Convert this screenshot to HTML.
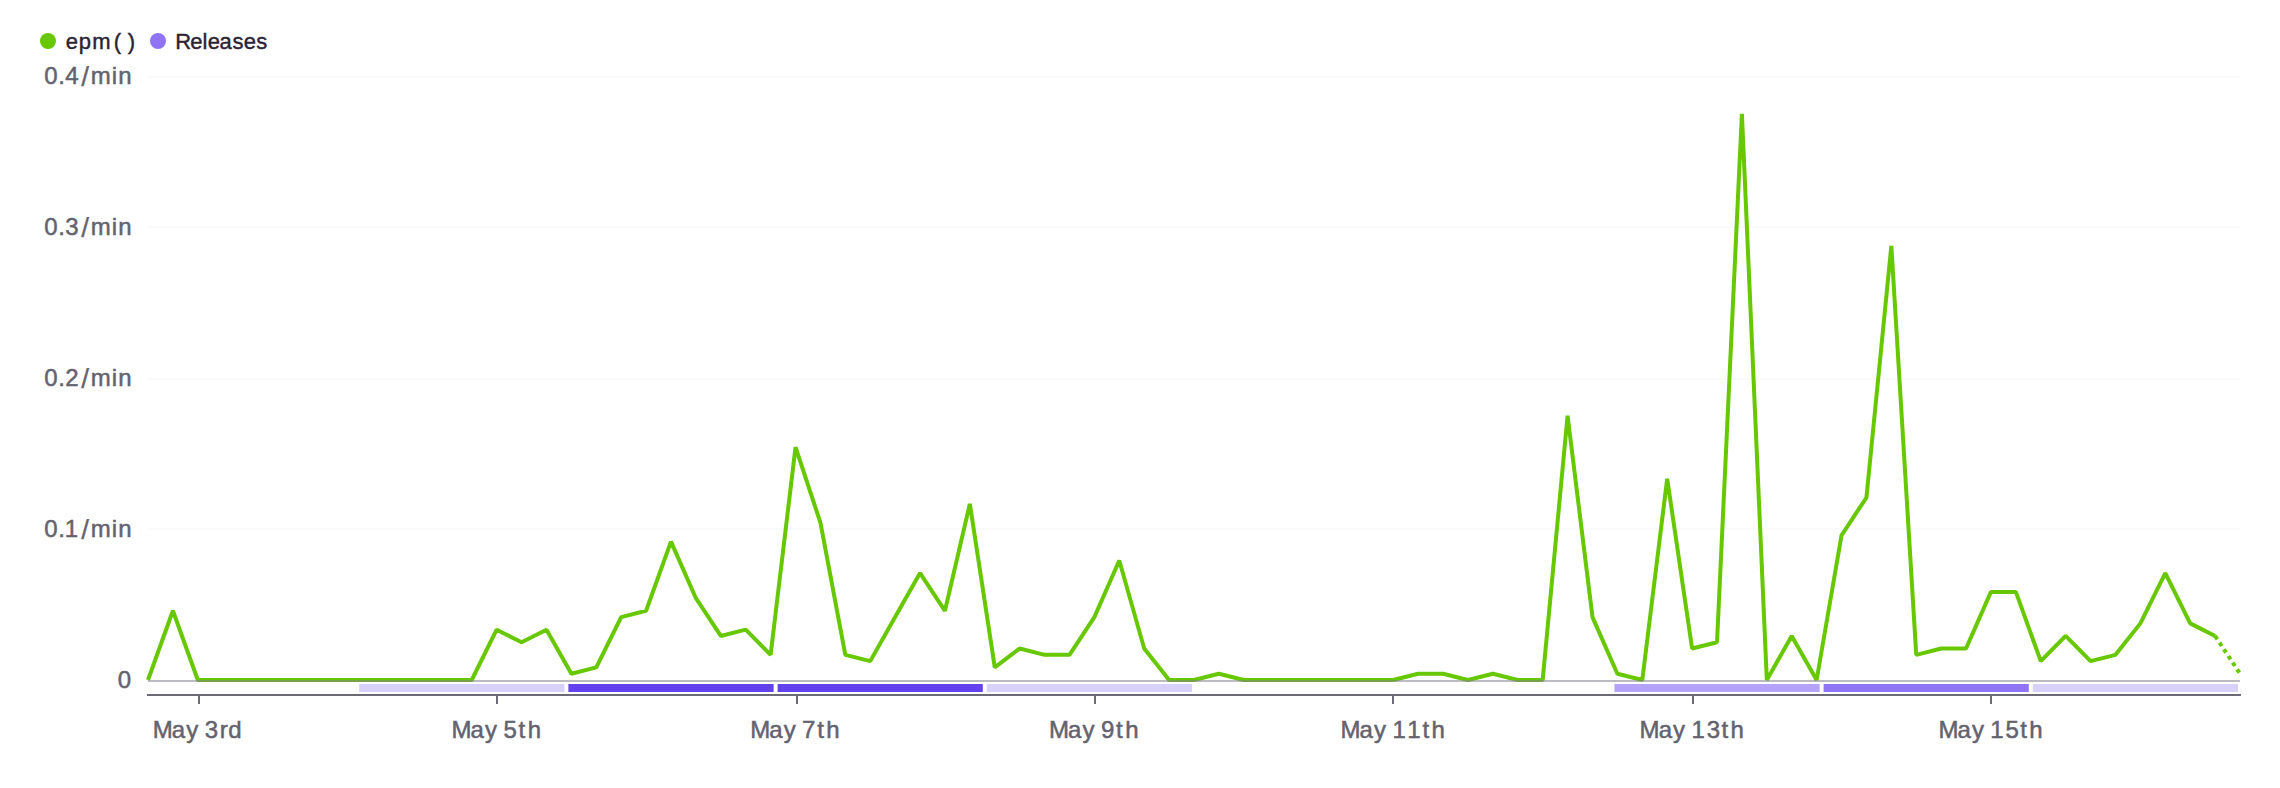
<!DOCTYPE html>
<html><head><meta charset="utf-8"><title>chart</title>
<style>
html,body{margin:0;padding:0;background:#fff;}
body{width:2280px;height:788px;overflow:hidden;}
svg{display:block;}
text{font-family:"Liberation Sans",sans-serif;}
.ax{font-size:24px;fill:#64626e;stroke:#64626e;stroke-width:0.5px;}
.lg{font-size:22px;fill:#2b2233;stroke:#2b2233;stroke-width:0.4px;}
</style></head><body>
<svg width="2280" height="788" viewBox="0 0 2280 788">
<rect width="2280" height="788" fill="#fff"/>
<!-- legend -->
<circle cx="48" cy="41" r="8" fill="#67c800"/>
<text x="65.80 78.74 92.23 113.72 127.85" y="49" class="lg">epm()</text>
<circle cx="158" cy="41" r="8" fill="#8f75f5"/>
<text x="175.26 190.20 202.50 207.80 219.62 232.49 243.85 256.24" y="49" class="lg">Releases</text>
<!-- grid -->
<rect x="148" y="76" width="2092" height="2" fill="#fafafa"/>
<rect x="148" y="226" width="2092" height="2" fill="#fafafa"/>
<rect x="148" y="378" width="2092" height="2" fill="#fafafa"/>
<rect x="148" y="528" width="2092" height="2" fill="#fafafa"/>
<!-- y labels -->
<text class="ax"><tspan x="44.33 58.17 65.20" y="84">0.4</tspan><tspan x="81.36" y="86" style="font-size:28px;stroke-width:0.25px">/</tspan><tspan x="90.85 111.79 118.26" y="84">min</tspan></text>
<text class="ax"><tspan x="44.33 58.17 65.20" y="235">0.3</tspan><tspan x="81.36" y="237" style="font-size:28px;stroke-width:0.25px">/</tspan><tspan x="90.85 111.79 118.26" y="235">min</tspan></text>
<text class="ax"><tspan x="44.33 58.17 65.13" y="386">0.2</tspan><tspan x="81.36" y="388" style="font-size:28px;stroke-width:0.25px">/</tspan><tspan x="90.85 111.79 118.26" y="386">min</tspan></text>
<text class="ax"><tspan x="44.33 58.17 64.80" y="537">0.1</tspan><tspan x="81.36" y="539" style="font-size:28px;stroke-width:0.25px">/</tspan><tspan x="90.85 111.79 118.26" y="537">min</tspan></text>
<text x="117.83" y="688" class="ax">0</text>
<!-- releases bars -->
<rect x="359.20" y="684" width="205.20" height="8" fill="#d8d2fb"/>
<rect x="568.40" y="684" width="205.20" height="8" fill="#6441ee"/>
<rect x="777.60" y="684" width="205.20" height="8" fill="#6441ee"/>
<rect x="986.80" y="684" width="205.20" height="8" fill="#d8d2fb"/>
<rect x="1614.40" y="684" width="205.20" height="8" fill="#b5a3fa"/>
<rect x="1823.60" y="684" width="205.20" height="8" fill="#8f75f5"/>
<rect x="2032.80" y="684" width="205.20" height="8" fill="#d8d2fb"/>
<!-- series -->
<polyline points="148.00,680.00 172.90,610.79 197.81,680.00 222.71,680.00 247.62,680.00 272.52,680.00 297.43,680.00 322.33,680.00 347.24,680.00 372.14,680.00 397.05,680.00 421.95,680.00 446.86,680.00 471.76,680.00 496.67,629.67 521.57,642.25 546.48,629.67 571.38,673.71 596.29,667.42 621.19,617.08 646.10,610.79 671.00,541.58 695.90,598.21 720.81,635.96 745.71,629.67 770.62,654.83 795.52,447.21 820.43,522.71 845.33,654.83 870.24,661.12 895.14,617.08 920.05,573.04 944.95,610.79 969.86,503.83 994.76,667.42 1019.67,648.54 1044.57,654.83 1069.48,654.83 1094.38,617.08 1119.29,560.46 1144.19,648.54 1169.10,680.00 1194.00,680.00 1218.90,673.71 1243.81,680.00 1268.71,680.00 1293.62,680.00 1318.52,680.00 1343.43,680.00 1368.33,680.00 1393.24,680.00 1418.14,673.71 1443.05,673.71 1467.95,680.00 1492.86,673.71 1517.76,680.00 1542.67,680.00 1567.57,415.75 1592.48,617.08 1617.38,673.71 1642.29,680.00 1667.19,478.67 1692.10,648.54 1717.00,642.25 1741.90,113.75 1766.81,680.00 1791.71,635.96 1816.62,680.00 1841.52,535.29 1866.43,497.54 1891.33,245.88 1916.24,654.83 1941.14,648.54 1966.05,648.54 1990.95,591.92 2015.86,591.92 2040.76,661.12 2065.67,635.96 2090.57,661.12 2115.48,654.83 2140.38,623.38 2165.29,573.04 2190.19,623.38 2215.10,635.96" fill="none" stroke="#67c800" stroke-width="4" stroke-linejoin="bevel" stroke-linecap="butt"/>
<polyline points="2215.10,635.96 2240.00,673.71" fill="none" stroke="#67c800" stroke-width="4" stroke-dasharray="4 4"/>
<!-- zero line -->
<rect x="148" y="680" width="2092" height="2" fill="#807e8a" fill-opacity="0.53"/>
<!-- axis -->
<rect x="147" y="694" width="2094" height="2" fill="#6c6a76"/>
<rect x="198" y="696" width="2" height="8" fill="#6c6a76"/>
<rect x="496" y="696" width="2" height="8" fill="#6c6a76"/>
<rect x="796" y="696" width="2" height="8" fill="#6c6a76"/>
<rect x="1094" y="696" width="2" height="8" fill="#6c6a76"/>
<rect x="1392" y="696" width="2" height="8" fill="#6c6a76"/>
<rect x="1692" y="696" width="2" height="8" fill="#6c6a76"/>
<rect x="1990" y="696" width="2" height="8" fill="#6c6a76"/>
<text x="152.70 171.82 186.19 200.10 204.70 219.66 228.35" y="738" class="ax">May 3rd</text>
<text x="451.50 470.62 484.99 498.90 503.45 518.57 527.67" y="738" class="ax">May 5th</text>
<text x="750.20 769.32 783.69 797.60 802.11 817.27 826.37" y="738" class="ax">May 7th</text>
<text x="1049.00 1068.12 1082.49 1096.40 1100.93 1116.07 1125.17" y="738" class="ax">May 9th</text>
<text x="1340.50 1359.62 1373.99 1387.90 1392.40 1407.25 1422.47 1431.42" y="738" class="ax">May 11th</text>
<text x="1639.60 1658.72 1673.09 1687.00 1691.50 1706.75 1721.57 1730.52" y="738" class="ax">May 13th</text>
<text x="1938.40 1957.52 1971.89 1985.80 1990.30 2005.50 2020.37 2029.32" y="738" class="ax">May 15th</text>
</svg>
</body></html>
